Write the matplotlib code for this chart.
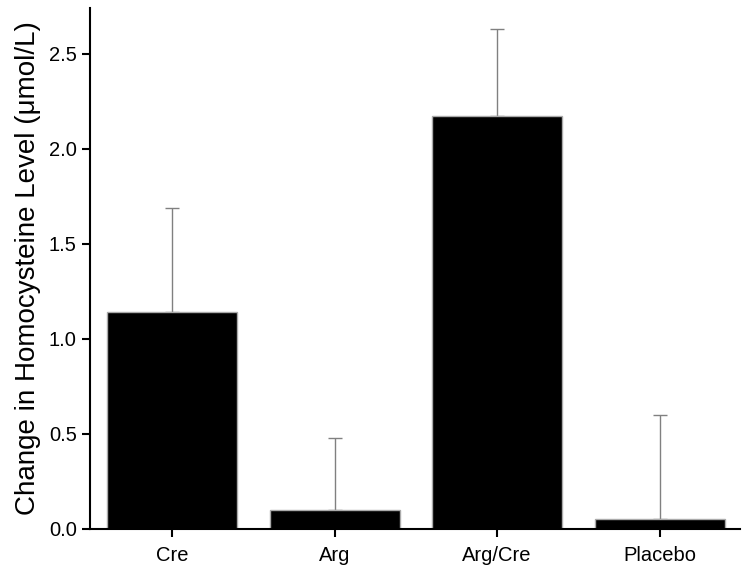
import numpy as np
import matplotlib.pyplot as plt

plt.rcParams['font.family'] = ['Liberation Sans', 'DejaVu Sans']

groups = ['Cre', 'Arg', 'Arg/Cre', 'Placebo']
means = [1.14, 0.10, 2.17, 0.055]
errs = [0.55, 0.38, 0.46, 0.545]

fig = plt.figure(figsize=(7.45, 5.76), dpi=100)
ax = fig.add_axes([90/745, 1 - 529/576, 650/745, 521/576])

x = np.arange(len(groups))
ax.bar(x, means, width=0.8, color='black', edgecolor='#aaaaaa', linewidth=1.0, zorder=2)
ax.errorbar(x, means, yerr=[np.zeros(len(errs)), errs], fmt='none',
            ecolor='#808080', elinewidth=1.0, capsize=5, capthick=1.0, zorder=1)

ax.set_xlim(-0.505, 3.495)
ax.set_ylim(0, 2.74)
ax.set_xticks(x)
ax.set_xticklabels(groups)
ax.set_yticks([0.0, 0.5, 1.0, 1.5, 2.0, 2.5])
ax.set_yticklabels(['0.0', '0.5', '1.0', '1.5', '2.0', '2.5'])
ax.set_ylabel('Change in Homocysteine Level (\u03bcmol/L)', fontsize=20, labelpad=6)

for s in ['top', 'right']:
    ax.spines[s].set_visible(False)
for s in ['left', 'bottom']:
    ax.spines[s].set_linewidth(1.5)
ax.tick_params(axis='both', labelsize=14.5, width=1.5, length=6, direction='out')
ax.tick_params(axis='x', pad=6)

fig.savefig('out.png', dpi=100)
